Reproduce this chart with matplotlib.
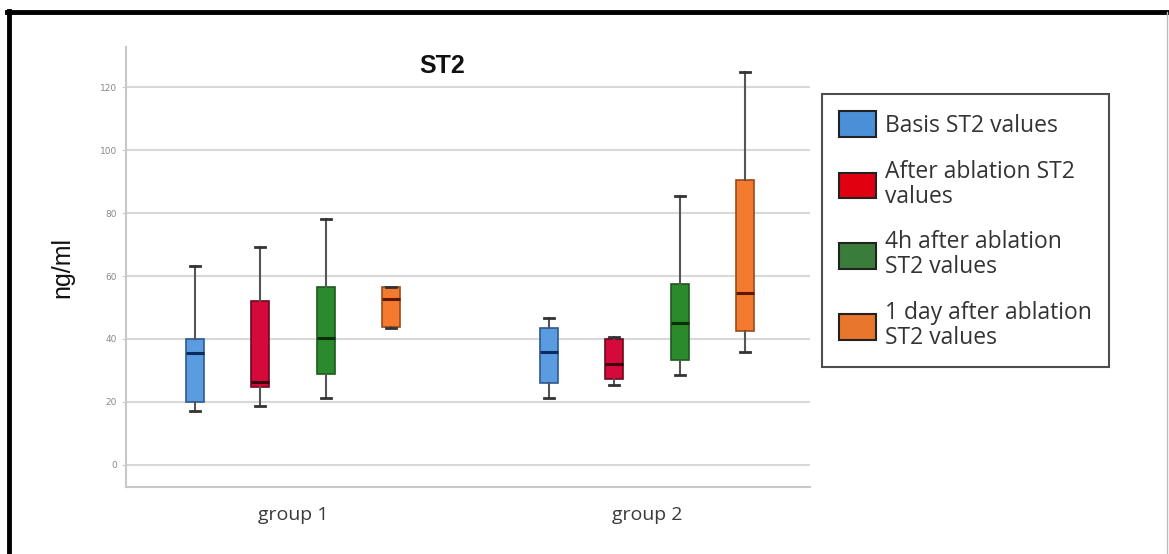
import matplotlib
matplotlib.use("Agg")
import matplotlib.pyplot as plt
from matplotlib.patches import Patch
from matplotlib.lines import Line2D

groups = ["group 1", "group 2"]
series = ["Basis ST2 values", "After ablation ST2\nvalues",
          "4h after ablation\nST2 values", "1 day after ablation\nST2 values"]

# per series: [group 1, group 2]
whis_lo = [[17.2, 21.2], [18.7, 25.4], [21.2, 28.6], [43.5, 35.8]]
q1 = [[20.0, 25.9], [24.9, 27.3], [28.8, 33.3], [43.9, 42.5]]
med = [[35.4, 35.8], [26.2, 32.0], [40.4, 45.2], [52.6, 54.5]]
q3 = [[40.0, 43.4], [52.0, 40.0], [56.4, 57.4], [56.6, 90.5]]
whis_hi = [[63.2, 46.6], [69.1, 40.7], [78.1, 85.5], [56.6, 124.9]]

box_colors = ["#5b9be0", "#d30a3a", "#2b8a2b", "#f47a30"]
edge_colors = ["#2d5a90", "#6e0a1e", "#1d5a1d", "#9a4a18"]
med_colors = ["#0a2a60", "#3a0010", "#0a300a", "#5a1a00"]
legend_colors = ["#4a90d9", "#e00010", "#3a7d3a", "#e8762d"]

fig = plt.figure(figsize=(11.69, 5.54), dpi=100)
ax = fig.add_axes([0.1078, 0.121, 0.585, 0.794])

offsets = [-0.2775, -0.0925, 0.0925, 0.2775]
for s in range(len(series)):
    stats = []
    for g in range(len(groups)):
        stats.append(dict(whislo=whis_lo[s][g], q1=q1[s][g], med=med[s][g],
                          q3=q3[s][g], whishi=whis_hi[s][g], fliers=[]))
    pos = [g + offsets[s] for g in range(len(groups))]
    ax.bxp(stats, positions=pos, widths=0.05, capwidths=0.028,
           patch_artist=True, showfliers=False, manage_ticks=False,
           boxprops=dict(facecolor=box_colors[s], edgecolor=edge_colors[s], linewidth=1.2),
           medianprops=dict(color=med_colors[s], linewidth=2.2),
           whiskerprops=dict(color="#555555", linewidth=1.5),
           capprops=dict(color="#333333", linewidth=2),
           zorder=3)

ax.set_xlim(-0.472, 1.46)
ax.set_ylim(-7, 132.7)
ax.set_yticks(range(0, 121, 20))
ax.set_xticks(range(len(groups)))
ax.set_xticklabels(groups, fontsize=14, color="#3a3a3a", family="Open Sans")
ax.tick_params(axis="x", length=0, pad=14)
ax.tick_params(axis="y", labelsize=6.5, labelcolor="#888888", color="#cccccc", length=3)
ax.yaxis.grid(True, color="#d8d8d8", linewidth=1.5, zorder=0)
ax.set_axisbelow(True)
for side in ["top", "right"]:
    ax.spines[side].set_visible(False)
for side in ["left", "bottom"]:
    ax.spines[side].set_color("#c8c8c8")
    ax.spines[side].set_linewidth(1.5)

ax.set_ylabel("ng/ml", fontsize=18, family="Liberation Sans", color="#111111", labelpad=18)
fig.text(0.378, 0.881, "ST2", fontsize=18, fontweight="bold", family="Liberation Sans",
         ha="center", va="center", color="#111111")

handles = [Patch(facecolor=c, edgecolor="#222222", linewidth=1.5) for c in legend_colors]
leg = fig.legend(handles, series, loc="upper left", bbox_to_anchor=(0.703, 0.830),
                 borderaxespad=0, prop=dict(family="Open Sans", size=16.5),
                 frameon=True, fancybox=False, handlelength=1.6, handleheight=1.35,
                 handletextpad=0.4, labelspacing=0.95, borderpad=0.75)
leg.get_frame().set_edgecolor("#222222")
leg.get_frame().set_linewidth(1.5)
for t in leg.get_texts():
    t.set_color("#333333")
    t.set_linespacing(1.05)

# outer frame
fig.add_artist(Line2D([0.0077, 0.0077], [0, 0.98], transform=fig.transFigure, color="black", linewidth=3.5))
fig.add_artist(Line2D([0.006, 1.0], [0.978, 0.978], transform=fig.transFigure, color="black", linewidth=3.5))
fig.add_artist(Line2D([0.9985, 0.9985], [0, 0.978], transform=fig.transFigure, color="#bbbbbb", linewidth=1))

fig.savefig("out.png", dpi=100)
